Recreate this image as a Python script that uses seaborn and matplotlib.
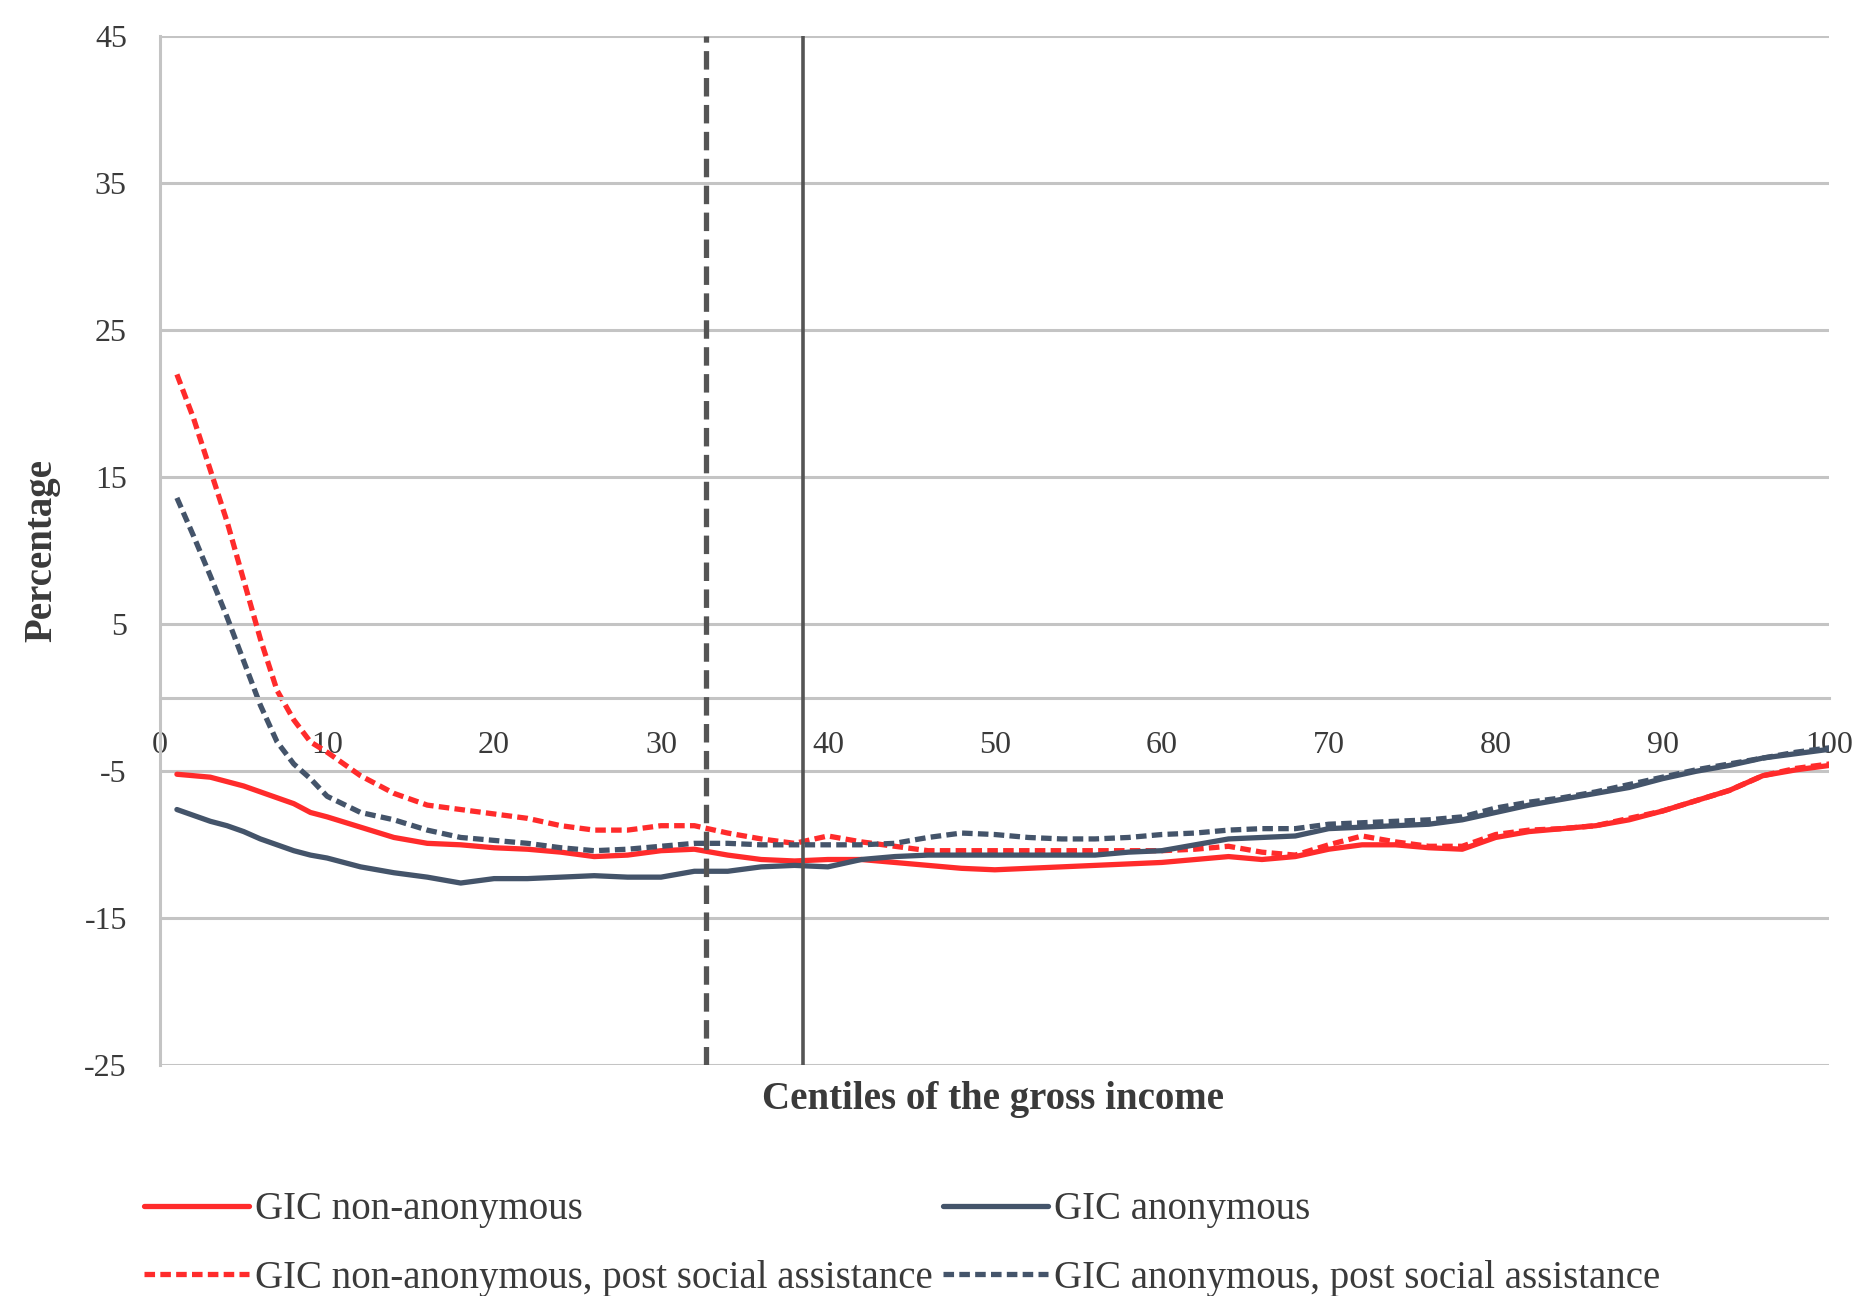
import matplotlib
matplotlib.use("Agg")
import matplotlib.pyplot as plt
import seaborn as sns
import pandas as pd

# ---------------- data ----------------
centiles = [1, 2, 3, 4, 5, 6, 7, 8, 9, 10, 12, 14, 16, 18, 20, 22, 24, 26, 28, 30,
            32, 34, 36, 38, 40, 42, 44, 46, 48, 50, 52, 54, 56, 58, 60, 62, 64, 66,
            68, 70, 72, 74, 76, 78, 80, 82, 84, 86, 88, 90, 92, 94, 96, 98, 100]

gic_non_anon = [-5.2, -5.3, -5.4, -5.7, -6.0, -6.4, -6.8, -7.2, -7.8, -8.1, -8.8, -9.5,
                -9.9, -10.0, -10.2, -10.3, -10.5, -10.8, -10.7, -10.4, -10.3, -10.7,
                -11.0, -11.1, -11.0, -11.0, -11.2, -11.4, -11.6, -11.7, -11.6, -11.5,
                -11.4, -11.3, -11.2, -11.0, -10.8, -11.0, -10.8, -10.3, -10.0, -10.0,
                -10.2, -10.3, -9.5, -9.1, -8.9, -8.7, -8.3, -7.7, -7.0, -6.3, -5.3,
                -4.9, -4.6]

gic_anon = [-7.6, -8.0, -8.4, -8.7, -9.1, -9.6, -10.0, -10.4, -10.7, -10.9, -11.5,
            -11.9, -12.2, -12.6, -12.3, -12.3, -12.2, -12.1, -12.2, -12.2, -11.8,
            -11.8, -11.5, -11.4, -11.5, -11.0, -10.8, -10.7, -10.7, -10.7, -10.7,
            -10.7, -10.7, -10.5, -10.4, -10.0, -9.6, -9.5, -9.4, -8.9, -8.8, -8.7,
            -8.6, -8.3, -7.8, -7.3, -6.9, -6.5, -6.1, -5.5, -5.0, -4.6, -4.1, -3.8,
            -3.5]

gic_non_anon_post = [22.0, 19.0, 15.5, 12.0, 8.0, 4.0, 0.5, -1.5, -3.0, -3.7, -5.3,
                     -6.5, -7.3, -7.6, -7.9, -8.2, -8.7, -9.0, -9.0, -8.7, -8.7, -9.2,
                     -9.6, -9.9, -9.4, -9.8, -10.1, -10.4, -10.4, -10.4, -10.4, -10.4,
                     -10.4, -10.4, -10.4, -10.3, -10.1, -10.5, -10.7, -10.0, -9.4,
                     -9.8, -10.1, -10.1, -9.3, -9.0, -8.9, -8.7, -8.2, -7.7, -7.0,
                     -6.3, -5.3, -4.8, -4.5]

gic_anon_post = [13.6, 11.0, 8.3, 5.5, 2.5, -0.5, -3.0, -4.5, -5.5, -6.7, -7.8, -8.3,
                 -9.0, -9.5, -9.7, -9.9, -10.2, -10.4, -10.3, -10.1, -9.9, -9.9,
                 -10.0, -10.0, -10.0, -10.0, -9.9, -9.5, -9.2, -9.3, -9.5, -9.6, -9.6,
                 -9.5, -9.3, -9.2, -9.0, -8.9, -8.9, -8.6, -8.5, -8.4, -8.3, -8.1,
                 -7.5, -7.1, -6.8, -6.4, -5.9, -5.4, -4.9, -4.5, -4.1, -3.7, -3.4]

series_labels = ["GIC non-anonymous",
                 "GIC non-anonymous, post social assistance",
                 "GIC anonymous",
                 "GIC anonymous, post social assistance"]

poverty_line_dashed = 32.7
poverty_line_solid = 38.5

y_ticks = [-25, -15, -5, 5, 15, 25, 35, 45]
x_ticks = [0, 10, 20, 30, 40, 50, 60, 70, 80, 90, 100]

# ---------------- style ----------------
sns.set_style("white")
plt.rcParams["font.family"] = ["Liberation Serif", "DejaVu Serif"]

RED = "#ff2b2b"
NAVY = "#44546a"
GRID = "#c4c4c4"
TXT = "#3a3a3a"

fig = plt.figure(figsize=(18.63, 12.96), dpi=100)
ax = fig.add_axes([0.086, 0.178, 0.896, 0.794])

series = [
    (gic_non_anon, series_labels[0], RED, None),
    (gic_non_anon_post, series_labels[1], RED, (2.0, 1.0)),
    (gic_anon, series_labels[2], NAVY, None),
    (gic_anon_post, series_labels[3], NAVY, (2.0, 1.0)),
]

handles = []
for vals, lab, col, dash in series:
    df = pd.DataFrame({"centile": centiles, "value": vals})
    sns.lineplot(data=df, x="centile", y="value", ax=ax, color=col,
                 linewidth=3.8, label=lab, legend=False)
    ln = ax.get_lines()[-1]
    if dash is not None:
        ln.set_dashes(dash)
    handles.append(ln)

ax.axvline(poverty_line_dashed, color="#555555", linewidth=3.8,
           linestyle=(0, (3.5, 1.6)), zorder=3)
ax.axvline(poverty_line_solid, color="#555555", linewidth=2.6, zorder=3)

ax.set_xlim(0, 100)
ax.set_ylim(-25, 45)
ax.set_yticks(y_ticks)
ax.set_xticks(x_ticks)
ax.set_yticklabels([str(v) for v in y_ticks])
ax.set_xticklabels([str(v) for v in x_ticks])

ax.yaxis.grid(True, color=GRID, linewidth=2.2)
ax.set_axisbelow(True)
for s in ["top", "right"]:
    ax.spines[s].set_visible(False)
ax.spines["left"].set_color(GRID)
ax.spines["left"].set_linewidth(2.2)
ax.spines["bottom"].set_position(("data", 0))
ax.spines["bottom"].set_color(GRID)
ax.spines["bottom"].set_linewidth(2.2)

ax.tick_params(axis="y", length=0, pad=24, labelsize=23, labelcolor=TXT)
ax.tick_params(axis="x", length=0, pad=24, labelsize=23, labelcolor=TXT)

ax.set_ylabel("")
ax.set_xlabel("")
fig.text(42 / 1863, 1 - 550 / 1296, "Percentage", rotation=90, ha="center",
         va="center", fontsize=28, fontweight="bold", color=TXT)
fig.text(993 / 1863, 1 - 1100 / 1296, "Centiles of the gross income", ha="center",
         va="center", fontsize=28, fontweight="bold", color=TXT)

fig.legend(handles=handles, labels=series_labels, ncol=2, frameon=False,
           loc="upper left", bbox_to_anchor=(125 / 1863, 1 - 1172 / 1296),
           fontsize=28, handlelength=2.7, handletextpad=0.15, columnspacing=0.25,
           labelspacing=0.8, borderpad=0, labelcolor=TXT)

fig.savefig("out.png", dpi=100)
